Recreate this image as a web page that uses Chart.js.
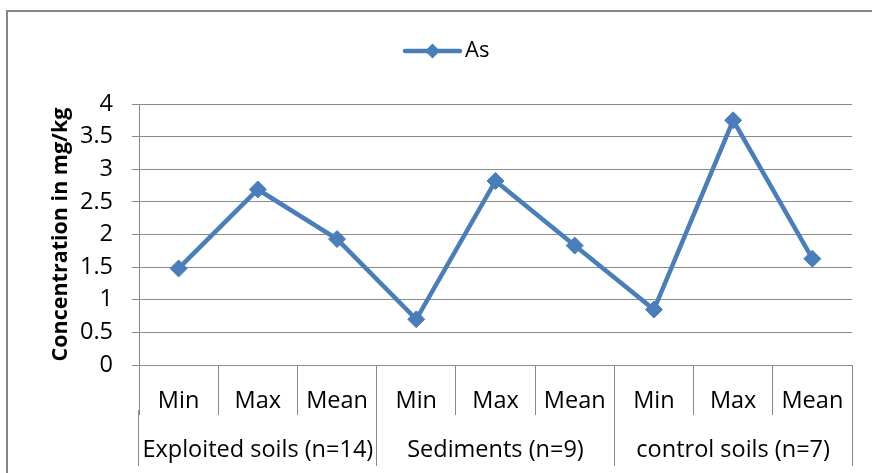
<!DOCTYPE html>
<html>
<head>
<meta charset="utf-8">
<script src="https://cdn.jsdelivr.net/npm/chart.js@4.4.1/dist/chart.umd.min.js"></script>
<style>
  html, body { margin: 0; padding: 0; background: #fff; overflow: hidden; }
  #frame { position: absolute; left: 6px; top: 10px; width: 900px; height: 500px;
           border-left: 2px solid #868686; border-top: 2px solid #868686; }
  #wrap { position: absolute; left: 0; top: 0; width: 872px; height: 473px; }
</style>
</head>
<body>
<div id="frame"></div>
<div id="wrap"><canvas id="lineChart"></canvas></div>
<script>
// data
const categories = ["Min", "Max", "Mean", "Min", "Max", "Mean", "Min", "Max", "Mean"];
const groups = ["Exploited soils (n=14)", "Sediments (n=9)", "control soils (n=7)"];
const asValues = [1.48, 2.69, 1.93, 0.70, 2.82, 1.83, 0.85, 3.75, 1.63];
const yMin = 0;
const yMax = 4;
const yStep = 0.5;

const blue = "#4a7ebb";
const gridGray = "#8a8a8a";
const font = "'Open Sans', 'DejaVu Sans', sans-serif";
const labelSize = 23.5;

// legend: line with a diamond, like the office one
const seriesKey = {
  id: "seriesKey",
  afterDraw(chart) {
    const ctx = chart.ctx;
    const ds = chart.data.datasets[0];
    const y = 51, x0 = 405, x1 = 460, xm = (x0 + x1) / 2, r = 7.5;
    ctx.save();
    ctx.strokeStyle = ds.borderColor;
    ctx.lineWidth = 4.5;
    ctx.lineCap = "round";
    ctx.beginPath();
    ctx.moveTo(x0, y);
    ctx.lineTo(x1, y);
    ctx.stroke();
    ctx.fillStyle = ds.pointBackgroundColor;
    ctx.beginPath();
    ctx.moveTo(xm, y - r);
    ctx.lineTo(xm + r, y);
    ctx.lineTo(xm, y + r);
    ctx.lineTo(xm - r, y);
    ctx.closePath();
    ctx.fill();
    ctx.fillStyle = "#000";
    ctx.font = "22px " + font;
    ctx.textBaseline = "middle";
    ctx.fillText(ds.label, 465, y);
    ctx.restore();
  }
};

const ctx = document.getElementById("lineChart").getContext("2d");
const chart = new Chart(ctx, {
  type: "line",
  data: {
    labels: categories,
    datasets: [
      {
        label: "As",
        data: asValues,
        borderColor: blue,
        backgroundColor: blue,
        borderWidth: 4.5,
        pointStyle: "rectRot",
        pointRadius: 8.5,
        pointBorderWidth: 1,
        pointBackgroundColor: blue,
        pointBorderColor: blue,
        tension: 0,
        fill: false,
      },
    ],
  },
  options: {
    responsive: true,
    maintainAspectRatio: false,
    animation: false,
    events: [],
    layout: { padding: { left: 40, right: 20, top: 104, bottom: 0 } },
    plugins: {
      legend: { display: false },
      tooltip: { enabled: false },
    },
    scales: {
      x: {
        type: "category",
        position: "bottom",
        weight: 0,
        offset: true,
        afterFit(scale) { scale.height = 45; },
        grid: {
          offset: true,
          drawOnChartArea: false,
          drawTicks: true,
          tickLength: 50,
          color: gridGray,
        },
        border: { display: true, color: gridGray, width: 1 },
        ticks: {
          color: "#000",
          font: { family: font, size: labelSize },
          padding: -28,
          maxRotation: 0,
          autoSkip: false,
        },
      },
      x2: {
        type: "category",
        labels: groups,
        position: "bottom",
        weight: 1,
        offset: true,
        afterFit(scale) { scale.height = 63; },
        grid: {
          offset: true,
          drawOnChartArea: false,
          drawTicks: true,
          tickLength: 56,
          color: gridGray,
        },
        border: { display: false },
        ticks: {
          color: "#000",
          font: { family: font, size: labelSize },
          padding: -30,
          maxRotation: 0,
          autoSkip: false,
        },
      },
      y: {
        min: yMin,
        max: yMax,
        afterFit(scale) { scale.width = 99; },
        ticks: {
          stepSize: yStep,
          color: "#000",
          font: { family: font, size: labelSize },
          padding: 19,
          callback: (v) => String(v),
        },
        grid: { color: gridGray, tickLength: 7 },
        border: { display: true, color: gridGray, width: 1 },
        title: {
          display: true,
          text: "Concentration in mg/kg",
          color: "#000",
          font: { family: font, size: 21.5, weight: "bold" },
          padding: { top: 8, bottom: 10 },
        },
      },
    },
  },
  plugins: [seriesKey],
});
</script>
</body>
</html>
